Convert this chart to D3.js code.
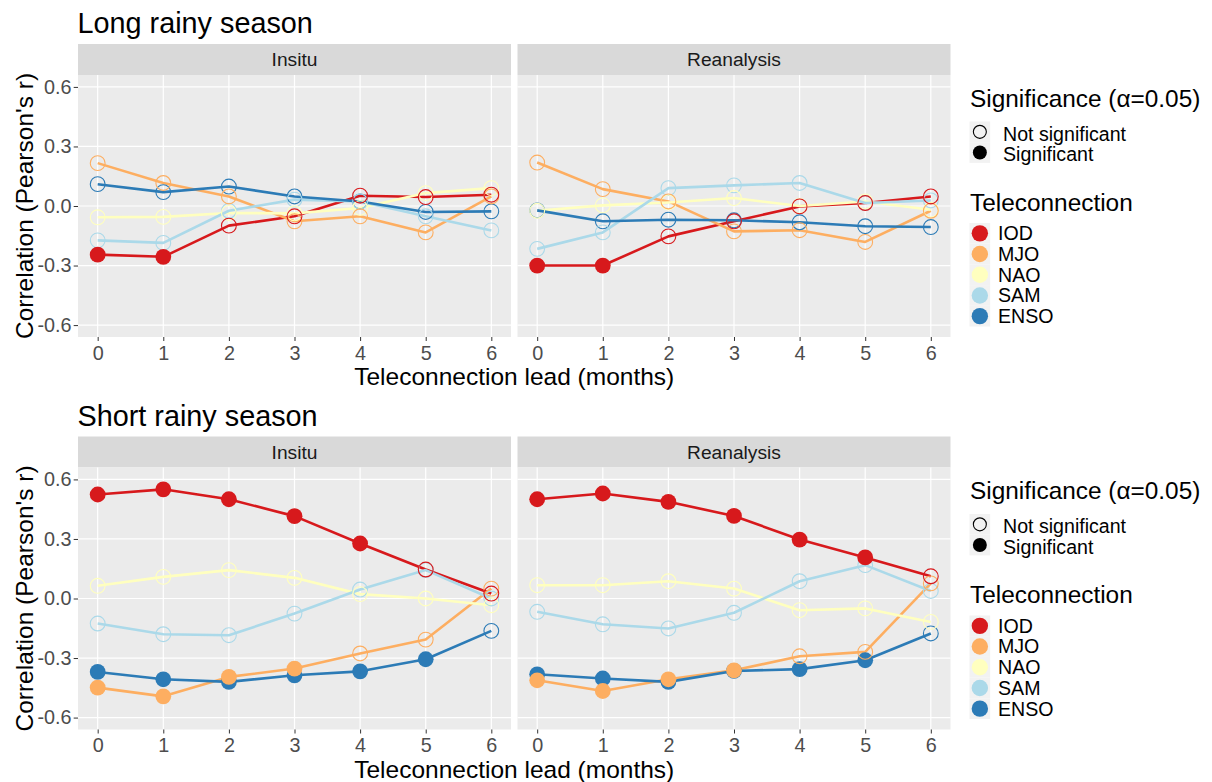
<!DOCTYPE html>
<html>
<head>
<meta charset="utf-8">
<script src="https://cdn.jsdelivr.net/npm/d3@7"></script>
<style>
  body { margin: 0; background: #ffffff; }
  text { font-family: "Liberation Sans", Arial, sans-serif; }
</style>
</head>
<body>
<svg id="chart" width="1212" height="782"></svg>
<script>
// ---- data ----
const leads = [0, 1, 2, 3, 4, 5, 6];
const teleconnections = ["IOD", "MJO", "NAO", "SAM", "ENSO"];
const teleColors = ["#d7191c", "#fdae61", "#ffffbf", "#abd9e9", "#2c7bb6"];
const sources = ["Insitu", "Reanalysis"];
const seasons = ["Long rainy season", "Short rainy season"];
const yTicks = [-0.6, -0.3, 0.0, 0.3, 0.6];
const sigLabels = ["Not significant", "Significant"];

// correlation per teleconnection (rows: IOD, MJO, NAO, SAM, ENSO), by lead 0..6
const longInsitu = [
  [-0.245, -0.256, -0.099, -0.052, 0.052, 0.045, 0.057],
  [0.216, 0.116, 0.048, -0.077, -0.052, -0.133, 0.048],
  [-0.057, -0.055, -0.035, -0.037, -0.010, 0.065, 0.090],
  [-0.173, -0.186, -0.024, 0.032, 0.023, -0.052, -0.123],
  [0.110, 0.070, 0.098, 0.048, 0.023, -0.030, -0.027]
];
const longInsituSig = [
  [1, 1, 0, 0, 0, 0, 0],
  [0, 0, 0, 0, 0, 0, 0],
  [0, 0, 0, 0, 0, 0, 0],
  [0, 0, 0, 0, 0, 0, 0],
  [0, 0, 0, 0, 0, 0, 0]
];
const longReanalysis = [
  [-0.300, -0.300, -0.153, -0.077, -0.002, 0.015, 0.048],
  [0.219, 0.085, 0.023, -0.128, -0.122, -0.181, -0.024],
  [-0.024, 0.003, 0.018, 0.040, 0.000, 0.023, -0.019],
  [-0.216, -0.133, 0.090, 0.104, 0.116, 0.015, 0.028],
  [-0.022, -0.077, -0.069, -0.072, -0.082, -0.102, -0.106]
];
const longReanalysisSig = [
  [1, 1, 0, 0, 0, 0, 0],
  [0, 0, 0, 0, 0, 0, 0],
  [0, 0, 0, 0, 0, 0, 0],
  [0, 0, 0, 0, 0, 0, 0],
  [0, 0, 0, 0, 0, 0, 0]
];
const shortInsitu = [
  [0.524, 0.550, 0.500, 0.415, 0.277, 0.146, 0.025],
  [-0.449, -0.493, -0.395, -0.353, -0.277, -0.207, 0.050],
  [0.064, 0.109, 0.143, 0.104, 0.022, 0.000, -0.034],
  [-0.126, -0.180, -0.185, -0.076, 0.045, 0.143, 0.000],
  [-0.370, -0.407, -0.420, -0.387, -0.367, -0.306, -0.163]
];
const shortInsituSig = [
  [1, 1, 1, 1, 1, 0, 0],
  [1, 1, 1, 1, 0, 0, 0],
  [0, 0, 0, 0, 0, 0, 0],
  [0, 0, 0, 0, 0, 0, 0],
  [1, 1, 1, 1, 1, 1, 0]
];
const shortReanalysis = [
  [0.500, 0.529, 0.487, 0.416, 0.297, 0.207, 0.112],
  [-0.412, -0.466, -0.407, -0.362, -0.291, -0.269, 0.076],
  [0.067, 0.067, 0.087, 0.050, -0.059, -0.050, -0.118],
  [-0.067, -0.130, -0.151, -0.072, 0.087, 0.168, 0.038],
  [-0.382, -0.403, -0.420, -0.365, -0.356, -0.311, -0.176]
];
const shortReanalysisSig = [
  [1, 1, 1, 1, 1, 1, 0],
  [1, 1, 1, 1, 0, 0, 0],
  [0, 0, 0, 0, 0, 0, 0],
  [0, 0, 0, 0, 0, 0, 0],
  [1, 1, 1, 1, 1, 1, 0]
];

// ---- layout ----
const svg = d3.select("#chart");
const panelW = 433, panelH = 262, stripH = 31;
const colLeft = [78, 517.5];
const rowTop = [44, 436.5];
const ink = "#000000", tickText = "#4d4d4d", tickLine = "#333333";
const tickFont = 19.8, titleFont = 24.5;

const panels = [
  { row: 0, col: 0, values: longInsitu, sig: longInsituSig },
  { row: 0, col: 1, values: longReanalysis, sig: longReanalysisSig },
  { row: 1, col: 0, values: shortInsitu, sig: shortInsituSig },
  { row: 1, col: 1, values: shortReanalysis, sig: shortReanalysisSig }
];

const color = d3.scaleOrdinal().domain(teleconnections).range(teleColors);

// season titles, axis titles
seasons.forEach((s, r) => {
  svg.append("text")
    .attr("x", 77.5).attr("y", rowTop[r] - 11)
    .attr("font-size", 28.8).attr("fill", ink)
    .text(s);

  const pTop = rowTop[r] + stripH;
  svg.append("text")
    .attr("transform", `translate(33,${pTop + panelH / 2}) rotate(-90)`)
    .attr("text-anchor", "middle")
    .attr("font-size", titleFont).attr("fill", ink)
    .text("Correlation (Pearson's r)");

  svg.append("text")
    .attr("x", (colLeft[0] + colLeft[1] + panelW) / 2)
    .attr("y", pTop + panelH + 48)
    .attr("text-anchor", "middle")
    .attr("font-size", titleFont).attr("fill", ink)
    .text("Teleconnection lead (months)");
});

panels.forEach(p => {
  const left = colLeft[p.col];
  const top = rowTop[p.row] + stripH;
  const x = d3.scaleLinear().domain([-0.3, 6.3]).range([left, left + panelW]);
  const y = d3.scaleLinear().domain([-0.66, 0.66]).range([top + panelH, top]);

  // strip
  svg.append("rect")
    .attr("x", left).attr("y", rowTop[p.row])
    .attr("width", panelW).attr("height", stripH)
    .attr("fill", "#d9d9d9");
  svg.append("text")
    .attr("x", left + panelW / 2).attr("y", rowTop[p.row] + stripH / 2)
    .attr("dy", "0.35em").attr("text-anchor", "middle")
    .attr("font-size", 19.2).attr("fill", "#1a1a1a")
    .text(sources[p.col]);

  // panel background and grid
  svg.append("rect")
    .attr("x", left).attr("y", top)
    .attr("width", panelW).attr("height", panelH)
    .attr("fill", "#ebebeb");
  const grid = svg.append("g");
  grid.selectAll("line.h").data(yTicks).join("line")
    .attr("x1", left).attr("x2", left + panelW)
    .attr("y1", d => y(d)).attr("y2", d => y(d))
    .attr("stroke", "#ffffff").attr("stroke-width", 1.2);
  grid.selectAll("line.v").data(leads).join("line")
    .attr("y1", top).attr("y2", top + panelH)
    .attr("x1", d => x(d)).attr("x2", d => x(d))
    .attr("stroke", "#ffffff").attr("stroke-width", 1.2);

  // x axis
  const xa = svg.append("g")
    .attr("transform", `translate(0,${top + panelH})`)
    .call(d3.axisBottom(x).tickValues(leads).tickFormat(d3.format("d"))
      .tickSize(4).tickPadding(4.8));
  xa.select(".domain").remove();
  xa.selectAll(".tick line").attr("stroke", tickLine).attr("stroke-width", 1);
  xa.selectAll(".tick text").attr("fill", tickText).attr("font-size", tickFont)
    .attr("font-family", "Liberation Sans, Arial, sans-serif");

  // y axis (left column only)
  if (p.col === 0) {
    const ya = svg.append("g")
      .attr("transform", `translate(${left},0)`)
      .call(d3.axisLeft(y).tickValues(yTicks).tickFormat(d3.format(".1f"))
        .tickSize(4.3).tickPadding(2.2));
    ya.select(".domain").remove();
    ya.selectAll(".tick line").attr("stroke", tickLine).attr("stroke-width", 1);
    ya.selectAll(".tick text").attr("fill", tickText).attr("font-size", tickFont)
      .attr("font-family", "Liberation Sans, Arial, sans-serif")
      .text(d => d3.format(".1f")(d).replace("\u2212", "-"));
  }

  // lines
  const line = d3.line().x((d, i) => x(leads[i])).y(d => y(d));
  const series = teleconnections.map((t, k) => ({ name: t, k, vals: p.values[k], sig: p.sig[k] }));
  svg.append("g").selectAll("path").data(series).join("path")
    .attr("d", s => line(s.vals))
    .attr("fill", "none")
    .attr("stroke", s => color(s.name))
    .attr("stroke-width", 2.6)
    .attr("stroke-linejoin", "round");

  // points
  const pts = [];
  series.slice().reverse().forEach(s => {
    s.vals.forEach((v, i) => pts.push({ name: s.name, lead: leads[i], v, sig: s.sig[i] }));
  });
  svg.append("g").selectAll("circle").data(pts).join("circle")
    .attr("cx", d => x(d.lead)).attr("cy", d => y(d.v))
    .attr("r", d => d.sig ? 7.9 : 7.4)
    .attr("fill", d => d.sig ? color(d.name) : "none")
    .attr("stroke", d => color(d.name))
    .attr("stroke-width", d => d.sig ? 0 : 1.1);
});

// ---- legends ----
rowTop.forEach(rt => {
  const off = rt - 44;
  const keyW = 20.7;
  const g = svg.append("g");

  g.append("text")
    .attr("x", 970).attr("y", 106.7 + off)
    .attr("font-size", 24.4).attr("fill", ink)
    .text("Significance (\u03b1=0.05)");

  sigLabels.forEach((lab, i) => {
    const ky = 121.5 + off + i * keyW;
    g.append("rect").attr("x", 969.5).attr("y", ky)
      .attr("width", keyW).attr("height", keyW).attr("fill", "#f2f2f2");
    g.append("circle")
      .attr("cx", 969.5 + keyW / 2).attr("cy", ky + keyW / 2)
      .attr("r", i ? 7 : 6.5)
      .attr("fill", i ? "#000000" : "none")
      .attr("stroke", "#000000").attr("stroke-width", i ? 0 : 1.1);
    g.append("text")
      .attr("x", 1003).attr("y", ky + keyW / 2 + 2)
      .attr("dy", "0.35em")
      .attr("font-size", 19.6).attr("fill", ink)
      .text(lab);
  });

  g.append("text")
    .attr("x", 970).attr("y", 210.7 + off)
    .attr("font-size", 24.4).attr("fill", ink)
    .text("Teleconnection");

  teleconnections.forEach((t, i) => {
    const ky = 223 + off + i * keyW;
    g.append("rect").attr("x", 969.5).attr("y", ky)
      .attr("width", keyW).attr("height", keyW).attr("fill", "#f2f2f2");
    g.append("circle")
      .attr("cx", 969.5 + keyW / 2).attr("cy", ky + keyW / 2)
      .attr("r", 8.2).attr("fill", color(t));
    g.append("text")
      .attr("x", 998).attr("y", ky + keyW / 2)
      .attr("dy", "0.35em")
      .attr("font-size", 19.6).attr("fill", ink)
      .text(t);
  });
});
</script>
</body>
</html>
